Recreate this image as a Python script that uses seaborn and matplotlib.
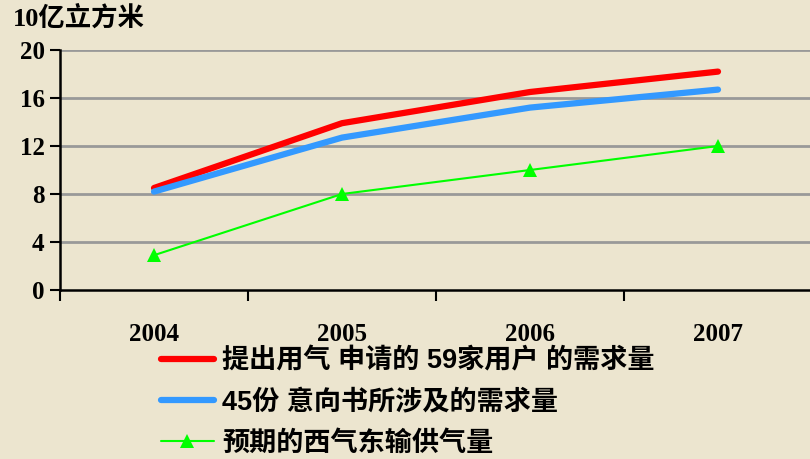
import seaborn as sns
import matplotlib.pyplot as plt
import pandas as pd

years = ["2004", "2005", "2006", "2007"]
apply_59 = [8.5, 13.9, 16.5, 18.2]
intent_45 = [8.2, 12.7, 15.2, 16.7]
supply = [2.9, 8.0, 10.0, 12.0]
series_names = [
    "提出用气 申请的 59家用户 的需求量",
    "45份 意向书所涉及的需求量",
    "预期的西气东输供气量",
]
y_ticks = [0, 4, 8, 12, 16, 20]

sns.set_theme(style="white", rc={"text.color": "black", "xtick.color": "black",
                                 "ytick.color": "black", "axes.labelcolor": "black"})
plt.rcParams["font.family"] = ["Liberation Serif", "Noto Sans CJK SC"]

bg = "#ece5cf"
fig = plt.figure(figsize=(8.1, 4.59), dpi=100, facecolor=bg)
ax = fig.add_axes([60 / 810, 169 / 459, 752 / 810, 240 / 459])
ax.set_facecolor(bg)

x = list(range(len(years)))
sns.lineplot(x=x, y=apply_59, ax=ax, color="#ff0000", linewidth=4.5,
             solid_capstyle="round", label=series_names[0], zorder=3)
sns.lineplot(x=x, y=intent_45, ax=ax, color="#3399ff", linewidth=4.5,
             solid_capstyle="round", label=series_names[1], zorder=3)
sns.lineplot(x=x, y=supply, ax=ax, color="#00ff00", linewidth=1.5,
             marker="^", markersize=10, markeredgewidth=0,
             label=series_names[2], zorder=4)

ax.set_xlim(-0.5, 3.5)
ax.set_ylim(0, 20)
ax.set_yticks(y_ticks)
ax.set_yticklabels([str(v) for v in y_ticks], fontsize=18, fontweight="bold")
ax.set_xticks(x)
ax.set_xticklabels(years, fontsize=18, fontweight="bold")
ax.set_xticks([-0.5, 0.5, 1.5, 2.5, 3.5], minor=True)
ax.tick_params(axis="x", which="major", length=0, pad=24)
ax.tick_params(axis="x", which="minor", length=8, width=1.5, color="black", direction="out", bottom=True)
ax.tick_params(axis="y", length=7, width=1.5, color="black", direction="out", left=True, pad=4)

for v in y_ticks[1:]:
    ax.axhline(v, color="#999999", linewidth=2, zorder=1)

for side in ["top", "right"]:
    ax.spines[side].set_visible(False)
for side in ["left", "bottom"]:
    ax.spines[side].set_color("black")
    ax.spines[side].set_linewidth(1.8)

ax.set_xlabel("")
ax.set_ylabel("")

handles, labels = ax.get_legend_handles_labels()
ax.get_legend().remove()
fig.legend(handles, labels, loc="upper left", bbox_to_anchor=(150 / 810, 1 - 338 / 459),
           frameon=False, handlelength=1.95, handletextpad=0.3, labelspacing=0.55,
           borderaxespad=0, prop={"family": ["Liberation Sans", "Noto Sans CJK SC"],
                                  "size": 19.5, "weight": "bold"})

fig.text(13 / 810, 1 - 5 / 459, "10亿立方米", fontsize=19, fontweight="bold",
         va="top", ha="left")

fig.savefig("out.png", dpi=100, facecolor=bg)
